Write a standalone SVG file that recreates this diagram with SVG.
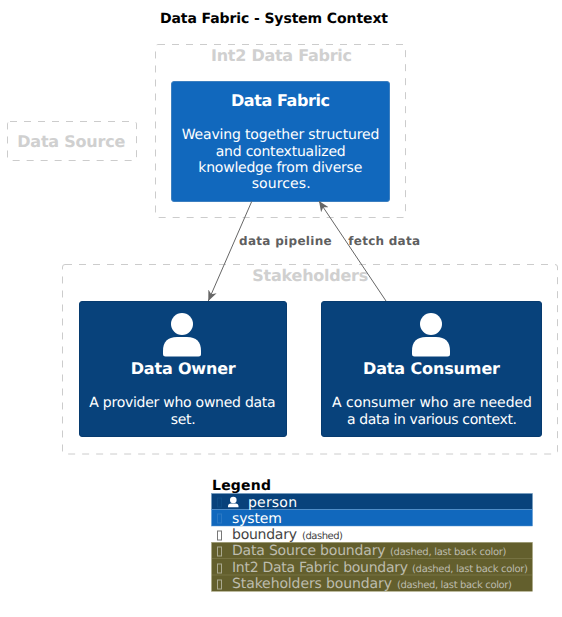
<svg xmlns="http://www.w3.org/2000/svg" width="562" height="617" viewBox="0 0 562 617">
<defs>
<style>
text{font-family:"DejaVu Sans",sans-serif;text-anchor:start;text-rendering:geometricPrecision}
.b{font-weight:bold}
.bd{fill:none;stroke:#cccccc;stroke-width:1;stroke-dasharray:7 7}
.bt{fill:#d0d0d0;font-weight:bold;font-size:16px}
.w{fill:#ffffff}
.t{font-size:16px;font-weight:bold;fill:#ffffff}
.d{font-size:14px;fill:#ffffff}
.c{fill:none;stroke:#666666;stroke-width:1}
.lb{font-size:12px;font-weight:bold;fill:#5f5f5f}
.lg{font-size:14px}
.sm{font-size:10px}
.lt{fill:#bdbcae}
.tf{fill:none;stroke-width:1}
</style>
<marker id="a" markerUnits="userSpaceOnUse" markerWidth="12" markerHeight="12" refX="10.500" refY="5.500" orient="auto"><path d="M0 1 L10.500 5.500 L0 10 L3 5.500 Z" fill="#666666"/></marker>
</defs>
<text x="160" y="23" class="b" font-size="14" fill="#000" textLength="228">Data Fabric - System Context</text>
<g id="boundary-source"><rect class="bd" x="7.500" y="121.500" width="129" height="39" rx="2.500"/><text class="bt" x="17.300" y="147" textLength="108">Data Source</text></g>
<g id="boundary-int2"><rect class="bd" x="155.500" y="44.500" width="250" height="173" rx="2.500"/><text class="bt" x="211" y="61" textLength="141">Int2 Data Fabric</text></g>
<g id="boundary-stakeholders"><rect class="bd" x="62.500" y="264.500" width="495" height="189.500" rx="2.500"/><text class="bt" x="252.300" y="281" textLength="116">Stakeholders</text></g>
<g id="data-fabric"><rect x="171.500" y="81.500" width="218" height="120" rx="2.500" fill="#1168BD" stroke="#3C7FC0"/><text class="t" x="231" y="106" textLength="99">Data Fabric</text><text class="d" x="181.700" y="139" textLength="197.600">Weaving together structured</text><text class="d" x="215.700" y="156" textLength="130">and contextualized</text><text class="d" x="198.300" y="172" textLength="164">knowledge from diverse</text><text class="d" x="251.700" y="188" textLength="59">sources.</text></g>
<g id="data-owner"><rect x="79.500" y="301.500" width="207" height="135" rx="2.500" fill="#08427B" stroke="#073B6F"/>
<circle class="w" cx="182" cy="324" r="11"/><path class="w" d="M163 354V351Q163 337 177 337H187Q201 337 201 351V354Q201 356.500 198.500 356.500H165.500Q163 356.500 163 354Z"/>
<text class="t" x="130.700" y="374" textLength="105">Data Owner</text><text class="d" x="89.300" y="407" textLength="186.400">A provider who owned data</text><text class="d" x="170.700" y="424" textLength="25">set.</text></g>
<g id="data-consumer"><rect x="321.500" y="301.500" width="220" height="135" rx="2.500" fill="#08427B" stroke="#073B6F"/>
<circle class="w" cx="431" cy="324" r="11"/><path class="w" d="M412 354V351Q412 337 426 337H436Q450 337 450 351V354Q450 356.500 447.500 356.500H414.500Q412 356.500 412 354Z"/>
<text class="t" x="363" y="374" textLength="137">Data Consumer</text><text class="d" x="332" y="407" textLength="200">A consumer who are needed</text><text class="d" x="347" y="424" textLength="170">a data in various context.</text></g>
<g id="connectors">
<path class="c" d="M251.700 201.500 L208.300 301" marker-end="url(#a)"/>
<path class="c" d="M386 301 L319 201" marker-end="url(#a)"/>
<text class="lb" x="239" y="245" textLength="92.700">data pipeline</text>
<text class="lb" x="348.300" y="245" textLength="71.700">fetch data</text>
</g>
<g id="legend">
<text class="b" x="212" y="490" font-size="14" fill="#000" textLength="59">Legend</text>
<rect x="211.500" y="493.500" width="321" height="16" fill="#08427B" stroke="#6f9abf" stroke-width=".5"/>
<rect x="211.500" y="509.500" width="321" height="16.500" fill="#1168BD" stroke="#5b97d2" stroke-width=".5"/>
<rect x="211.500" y="542.300" width="321" height="49" fill="#635F2D" stroke="#a8a680" stroke-width=".5"/>
<path d="M212 558.500H532M212 575H532" stroke="#8a8658" stroke-width=".5"/>
<circle class="w" cx="233.300" cy="500" r="3.300"/><path class="w" d="M228 507.300V506.500Q228 503.500 231 503.500H235.500Q238.500 503.500 238.500 506.500V507.300Z"/>
<text class="lg w" x="248" y="507" textLength="49">person</text>
<text class="lg w" x="232" y="523" textLength="50">system</text>
<text class="lg" x="232" y="539" fill="#444" textLength="65">boundary</text><text class="sm" x="302" y="539" fill="#444" textLength="41">(dashed)</text>
<text class="lg lt" x="232" y="555" textLength="153.500">Data Source boundary</text><text class="sm lt" x="390" y="555" textLength="116.500">(dashed, last back color)</text>
<text class="lg lt" x="232" y="572" textLength="176">Int2 Data Fabric boundary</text><text class="sm lt" x="412" y="572" textLength="116">(dashed, last back color)</text>
<text class="lg lt" x="232" y="588" textLength="160">Stakeholders boundary</text><text class="sm lt" x="397" y="588" textLength="115">(dashed, last back color)</text>
<rect class="tf" x="217.500" y="498" width="4" height="9" stroke="#0d4c85"/>
<rect class="tf" x="217.500" y="514" width="4" height="9" stroke="#2a78c4"/>
<rect class="tf" x="217.500" y="531" width="4" height="9" stroke="#777"/>
<rect class="tf" x="217.500" y="547" width="4" height="9" stroke="#aaa98f"/>
<rect class="tf" x="217.500" y="564" width="4" height="9" stroke="#aaa98f"/>
<rect class="tf" x="217.500" y="580" width="4" height="9" stroke="#aaa98f"/>
</g>
</svg>
